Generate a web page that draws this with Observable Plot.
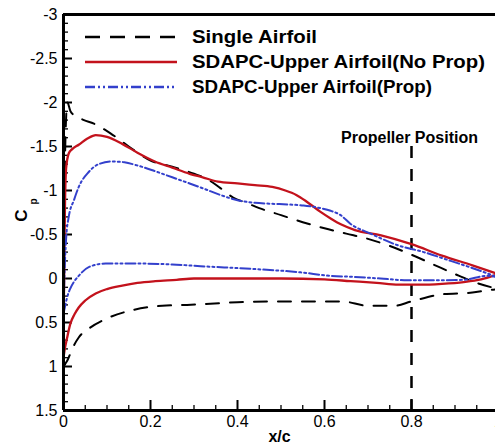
<!DOCTYPE html>
<html><head><meta charset="utf-8">
<script src="https://cdn.jsdelivr.net/npm/d3@7"></script>
<script src="https://cdn.jsdelivr.net/npm/@observablehq/plot@0.6"></script>
<style>
html,body{margin:0;padding:0;background:#fff;overflow:hidden;}
#wrap{position:relative;width:495px;height:445px;overflow:hidden;}
#legend{position:absolute;left:0;top:0;}
</style></head><body><div id="wrap"></div>
<script>
// ---- data ----
const seriesNames = ["Single Airfoil", "SDAPC-Upper Airfoil(No Prop)", "SDAPC-Upper Airfoil(Prop)"];

const singleUpperX  = [0, 0.002, 0.005, 0.009, 0.016, 0.03, 0.047, 0.07, 0.085, 0.108, 0.15, 0.2, 0.25, 0.3, 0.33, 0.36, 0.39, 0.42, 0.45, 0.5, 0.55, 0.6, 0.65, 0.7, 0.75, 0.8, 0.85, 0.9, 0.95, 1.0];
const singleUpperCp = [1.0, -0.6, -1.7, -2.0, -1.9, -1.84, -1.8, -1.76, -1.72, -1.65, -1.5, -1.34, -1.27, -1.19, -1.13, -1.03, -0.92, -0.86, -0.8, -0.72, -0.64, -0.57, -0.51, -0.45, -0.37, -0.27, -0.16, -0.05, 0.05, 0.12];
const singleLowerX  = [0, 0.004, 0.01, 0.02, 0.035, 0.058, 0.097, 0.158, 0.227, 0.284, 0.4, 0.52, 0.64, 0.7, 0.76, 0.8, 0.87, 0.94, 0.98, 1.0];
const singleLowerCp = [1.0, 0.97, 0.92, 0.8, 0.67, 0.57, 0.46, 0.36, 0.31, 0.3, 0.27, 0.26, 0.26, 0.31, 0.31, 0.26, 0.18, 0.16, 0.13, 0.12];

const noPropUpperX  = [0, 0.001, 0.003, 0.006, 0.012, 0.02, 0.035, 0.055, 0.074, 0.1, 0.135, 0.17, 0.21, 0.25, 0.29, 0.32, 0.355, 0.4, 0.44, 0.48, 0.51, 0.535, 0.56, 0.59, 0.615, 0.64, 0.67, 0.73, 0.8, 0.87, 0.94, 1.0];
const noPropUpperCp = [0.9, 0.2, -0.7, -1.25, -1.42, -1.47, -1.52, -1.59, -1.63, -1.61, -1.53, -1.43, -1.33, -1.26, -1.19, -1.15, -1.1, -1.08, -1.06, -1.04, -1.0, -0.95, -0.87, -0.76, -0.68, -0.61, -0.55, -0.49, -0.39, -0.26, -0.15, -0.05];
const noPropLowerX  = [0, 0.003, 0.008, 0.016, 0.025, 0.035, 0.05, 0.074, 0.1, 0.135, 0.17, 0.211, 0.26, 0.3, 0.4, 0.5, 0.6, 0.66, 0.72, 0.77, 0.82, 0.87, 0.92, 0.96, 1.0];
const noPropLowerCp = [0.9, 0.8, 0.68, 0.51, 0.41, 0.33, 0.25, 0.17, 0.12, 0.08, 0.05, 0.03, 0.015, 0.0, 0.0, 0.0, 0.01, 0.03, 0.05, 0.07, 0.07, 0.06, 0.04, 0.01, -0.05];

const propUpperX  = [0, 0.002, 0.006, 0.012, 0.024, 0.035, 0.058, 0.081, 0.112, 0.14, 0.173, 0.21, 0.25, 0.29, 0.323, 0.36, 0.4, 0.44, 0.476, 0.52, 0.552, 0.59, 0.614, 0.637, 0.66, 0.706, 0.767, 0.828, 0.89, 0.951, 1.0];
const propUpperCp = [0.4, 0.0, -0.45, -0.7, -0.89, -1.04, -1.21, -1.3, -1.33, -1.32, -1.28, -1.22, -1.15, -1.08, -1.02, -0.95, -0.89, -0.86, -0.85, -0.84, -0.83, -0.8, -0.77, -0.72, -0.62, -0.51, -0.38, -0.3, -0.2, -0.1, -0.01];
const propLowerX  = [0, 0.003, 0.008, 0.015, 0.025, 0.035, 0.058, 0.097, 0.173, 0.25, 0.315, 0.43, 0.545, 0.614, 0.66, 0.729, 0.79, 0.844, 0.92, 0.974, 1.0];
const propLowerCp = [0.4, 0.33, 0.22, 0.12, 0.03, -0.03, -0.13, -0.17, -0.17, -0.16, -0.14, -0.11, -0.07, -0.03, -0.02, 0.0, 0.02, 0.02, 0.015, -0.03, -0.01];

const propellerX = [0.8];
const propellerCpRange = [-1.5, 1.5];
const propellerLabel = "Propeller Position";

const xMajor = [0, 0.2, 0.4, 0.6, 0.8, 1];
const xMinor = d3.range(0, 1.0001, 0.05).map(v => +v.toFixed(2)).filter(v => !xMajor.includes(v));
const yMajor = [-3, -2.5, -2, -1.5, -1, -0.5, 0, 0.5, 1, 1.5];
const yMinor = d3.range(-3, 1.5001, 0.1).map(v => +v.toFixed(1)).filter(v => !yMajor.includes(v));

const colors = ["#000000", "#c3121c", "#3340cc"];
const dashes = ["13,11", null, "10,3,2,3,2,3"];
const widths = [2, 2.3, 2];

// ---- build ----
function rows(xs, cps, surface) { return xs.map((x, i) => ({x, cp: cps[i], surface})); }
const series = [
  rows(singleUpperX, singleUpperCp, "u").concat(rows(singleLowerX, singleLowerCp, "l")),
  rows(noPropUpperX, noPropUpperCp, "u").concat(rows(noPropLowerX, noPropLowerCp, "l")),
  rows(propUpperX, propUpperCp, "u").concat(rows(propLowerX, propLowerCp, "l"))
];

const xDomain = [0, 1], yDomain = [-3, 1.5];
const xRange = [63, 498], yRange = [14, 410];
const sx = d3.scaleLinear(xDomain, xRange), sy = d3.scaleLinear(yDomain, yRange);
// tick lengths (pixels) expressed through the scales
const xAt = px => sx.invert(xRange[0] + px);      // inward from the left edge
const yAt = px => sy.invert(yRange[1] - px);      // inward from the bottom edge

const font = "'Liberation Sans', Arial, sans-serif";
const plot = Plot.plot({
  width: 495, height: 445,
  marginLeft: 63, marginRight: 0, marginTop: 14, marginBottom: 35,
  style: {fontFamily: font, fontSize: "16px", color: "#000", background: "#fff"},
  x: {domain: xDomain, range: xRange},
  y: {domain: yDomain, range: yRange},
  marks: [
    Plot.ruleY(yMajor, {y: d => d, x1: xDomain[0], x2: xAt(9), stroke: "#000", strokeWidth: 2}),
    Plot.ruleY(yMinor, {y: d => d, x1: xDomain[0], x2: xAt(5), stroke: "#000", strokeWidth: 1.3}),
    Plot.ruleX(xMajor, {x: d => d, y1: yDomain[1], y2: yAt(10), stroke: "#000", strokeWidth: 2}),
    Plot.ruleX(xMinor, {x: d => d, y1: yDomain[1], y2: yAt(5), stroke: "#000", strokeWidth: 1.3}),
    Plot.axisY({ticks: yMajor, tickSize: 0, tickPadding: 6, tickFormat: d => String(d), label: null, fontSize: 16}),
    Plot.axisX({ticks: xMajor, tickSize: 0, tickPadding: 5, tickFormat: d => String(d), label: null, fontSize: 16}),
    Plot.ruleX(propellerX, {y1: propellerCpRange[0], y2: propellerCpRange[1], stroke: "#000", strokeWidth: 2.5, strokeDasharray: "12,11"}),
    Plot.text(propellerX, {x: d => d, text: () => propellerLabel, frameAnchor: "top", lineAnchor: "middle", dy: 123, dx: -2, fontWeight: "bold", fontSize: 16}),
    ...series.map((data, i) => Plot.line(data, {
      x: "x", y: "cp", z: "surface", stroke: colors[i], strokeWidth: widths[i],
      strokeDasharray: dashes[i], curve: "monotone-x"
    })),
    Plot.ruleY(yDomain, {stroke: "#000", strokeWidth: 3}),
    Plot.ruleX(xDomain, {stroke: "#000", strokeWidth: 3}),
    Plot.text(["x/c"], {text: d => d, frameAnchor: "bottom", lineAnchor: "middle", dy: 26, fontWeight: "bold", fontSize: 16}),
    Plot.text(["C"], {text: d => d, frameAnchor: "left", textAnchor: "middle", lineAnchor: "middle", dx: -42, dy: 3, rotate: -90, fontWeight: "bold", fontSize: 17}),
    Plot.text(["p"], {text: d => d, frameAnchor: "left", textAnchor: "middle", lineAnchor: "middle", dx: -30, dy: -11, rotate: -90, fontWeight: "bold", fontSize: 10})
  ]
});
const wrap = document.getElementById("wrap");
wrap.appendChild(plot);

// ---- legend (overlay inside the frame, top-left) ----
const legendTextWidths = [125, 293, 240];
const lg = d3.select(wrap).append("svg").attr("id", "legend").attr("width", 495).attr("height", 110);
seriesNames.forEach((name, i) => {
  const y = 37 + i * 25;
  const line = lg.append("line").attr("x1", 85).attr("x2", 177).attr("y1", y).attr("y2", y)
    .attr("stroke", colors[i]).attr("stroke-width", widths[i] + 0.3);
  if (dashes[i]) line.attr("stroke-dasharray", i === 0 ? "15,10" : dashes[i]);
  lg.append("text").attr("x", 192).attr("y", y).attr("dy", "0.36em")
    .attr("font-family", font).attr("font-weight", "bold").attr("font-size", 18)
    .attr("textLength", legendTextWidths[i]).attr("lengthAdjust", "spacingAndGlyphs")
    .text(name);
});
</script></body></html>
